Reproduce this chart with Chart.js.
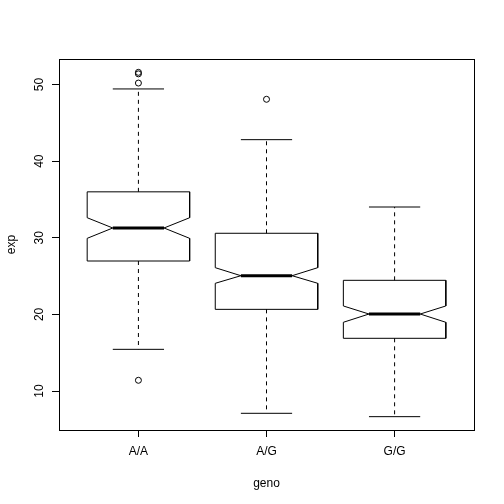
<!DOCTYPE html>
<html>
<head>
<meta charset="utf-8">
<script src="https://cdn.jsdelivr.net/npm/chart.js@4.4.1/dist/chart.umd.min.js"></script>
<style>
  html, body { margin: 0; padding: 0; background: #fff; }
  canvas { display: block; }
</style>
</head>
<body>
<canvas id="myChart" width="504" height="504"></canvas>
<script>
// valori
const categories = ['A/A', 'A/G', 'G/G'];
const whiskerHigh = [49.43, 42.81, 34.02];
const upperQ = [36.0, 30.59, 24.45];
const notchHigh = [32.62, 26.1, 21.1];
const medians = [31.28, 25.05, 20.05];
const notchLow = [29.93, 24.06, 18.97];
const lowerQ = [26.97, 20.66, 16.88];
const whiskerLow = [15.44, 7.09, 6.65];
const outliers = [[11.4, 50.2, 51.4, 51.6], [48.08], []];
const yTicks = [10, 20, 30, 40, 50];

const FONT = '"Liberation Sans", Arial, Helvetica, sans-serif';
const halfBox = 0.4, halfNotch = 0.2, halfCap = 0.2;

function lineSet(points, width, dash) {
  return {
    data: points,
    showLine: true,
    borderColor: '#000',
    borderWidth: width,
    borderDash: dash || [],
    pointRadius: 0,
    fill: false,
    tension: 0
  };
}

const datasets = [];
categories.forEach(function (cat, i) {
  const x = i + 1;
  // scatola con notch
  datasets.push(lineSet([
    {x: x - halfBox, y: lowerQ[i]},
    {x: x - halfBox, y: notchLow[i]},
    {x: x - halfNotch, y: medians[i]},
    {x: x - halfBox, y: notchHigh[i]},
    {x: x - halfBox, y: upperQ[i]},
    {x: x + halfBox, y: upperQ[i]},
    {x: x + halfBox, y: notchHigh[i]},
    {x: x + halfNotch, y: medians[i]},
    {x: x + halfBox, y: notchLow[i]},
    {x: x + halfBox, y: lowerQ[i]},
    {x: x - halfBox, y: lowerQ[i]}
  ], 1));
  // mediana
  datasets.push(lineSet([{x: x - halfNotch, y: medians[i]}, {x: x + halfNotch, y: medians[i]}], 3));
  // baffi tratteggiati
  datasets.push(lineSet([{x: x, y: upperQ[i]}, {x: x, y: whiskerHigh[i]}], 1, [4, 4]));
  datasets.push(lineSet([{x: x, y: lowerQ[i]}, {x: x, y: whiskerLow[i]}], 1, [4, 4]));
  // estremi
  datasets.push(lineSet([{x: x - halfCap, y: whiskerHigh[i]}, {x: x + halfCap, y: whiskerHigh[i]}], 1));
  datasets.push(lineSet([{x: x - halfCap, y: whiskerLow[i]}, {x: x + halfCap, y: whiskerLow[i]}], 1));
  // outlier
  datasets.push({
    data: outliers[i].map(function (v) { return {x: x, y: v}; }),
    showLine: false,
    pointStyle: 'circle',
    pointRadius: 3,
    pointBackgroundColor: 'rgba(0,0,0,0)',
    pointBorderColor: '#000',
    pointBorderWidth: 1
  });
});

// cornice e etichette dell'asse y
const frame = {
  id: 'frame',
  afterDraw(chart) {
    const ctx = chart.ctx;
    const a = chart.chartArea;
    const y = chart.scales.y;
    ctx.save();
    ctx.strokeStyle = '#000';
    ctx.lineWidth = 1;
    ctx.strokeRect(Math.round(a.left) + 0.5, Math.round(a.top) + 0.5,
      Math.round(a.right - a.left), Math.round(a.bottom - a.top));
    ctx.fillStyle = '#000';
    ctx.font = '12px ' + FONT;
    ctx.textAlign = 'center';
    ctx.textBaseline = 'alphabetic';
    yTicks.forEach(function (v) {
      ctx.save();
      ctx.translate(42.7, y.getPixelForValue(v));
      ctx.rotate(-Math.PI / 2);
      ctx.fillText(String(v), 0, 0);
      ctx.restore();
    });
    ctx.restore();
  }
};

const ctx = document.getElementById('myChart').getContext('2d');
const myChart = new Chart(ctx, {
  type: 'scatter',
  data: { datasets: datasets },
  options: {
    responsive: false,
    animation: false,
    devicePixelRatio: 1,
    layout: { padding: { top: 59, right: 30, left: 0, bottom: 0 } },
    plugins: { legend: { display: false }, tooltip: { enabled: false } },
    scales: {
      x: {
        type: 'linear',
        min: 0.38,
        max: 3.62,
        afterBuildTicks: function (s) { s.ticks = categories.map(function (c, i) { return {value: i + 1}; }); },
        afterFit: function (s) { s.height = 74; },
        ticks: {
          autoSkip: false,
          maxRotation: 0,
          padding: 7,
          color: '#000',
          font: { family: FONT, size: 12 },
          callback: function (v) { return categories[v - 1]; }
        },
        grid: { drawOnChartArea: false, drawTicks: true, tickLength: 7, color: '#000' },
        border: { color: '#000' },
        title: { display: true, text: 'geno', color: '#000', font: { family: FONT, size: 12 }, padding: { top: 0, bottom: 13 } }
      },
      y: {
        min: 4.91,
        max: 53.34,
        afterBuildTicks: function (s) { s.ticks = yTicks.map(function (v) { return {value: v}; }); },
        afterFit: function (s) { s.width = 59; },
        ticks: { display: false },
        grid: { drawOnChartArea: false, drawTicks: true, tickLength: 7, color: '#000' },
        border: { color: '#000' },
        title: { display: true, text: 'exp', color: '#000', font: { family: FONT, size: 12 }, padding: { top: 4, bottom: 0 } }
      }
    }
  },
  plugins: [frame]
});
</script>
</body>
</html>
